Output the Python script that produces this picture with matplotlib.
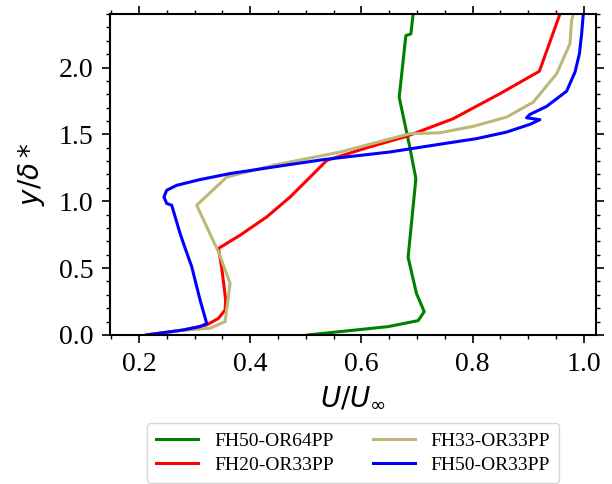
import matplotlib
matplotlib.use("Agg")
import matplotlib.pyplot as plt

# ============================================================================
# Perfiles de velocidad
# ============================================================================

# FH50-OR64PP
u_fh50_or64 = [0.504, 0.648, 0.702, 0.713, 0.699, 0.684, 0.698, 0.687, 0.668, 0.680, 0.689, 0.693]
y_fh50_or64 = [0.0, 0.062, 0.107, 0.174, 0.311, 0.580, 1.169, 1.405, 1.778, 2.239, 2.251, 2.40]

# FH20-OR33PP
u_fh20_or33 = [0.214, 0.280, 0.322, 0.343, 0.355, 0.356, 0.349, 0.343, 0.382, 0.430,
               0.472, 0.508, 0.538, 0.610, 0.681, 0.765, 0.849, 0.920, 0.957]
y_fh20_or33 = [0.0, 0.037, 0.075, 0.124, 0.187, 0.261, 0.500, 0.647, 0.746, 0.883,
               1.032, 1.181, 1.306, 1.400, 1.485, 1.617, 1.804, 1.972, 2.40]

# FH33-OR33PP
u_fh33_or33 = [0.214, 0.280, 0.328, 0.355, 0.364, 0.343, 0.322, 0.304, 0.358, 0.442,
               0.562, 0.687, 0.741, 0.801, 0.861, 0.909, 0.951, 0.975, 0.978, 0.981]
y_fh33_or33 = [0.0, 0.035, 0.050, 0.100, 0.386, 0.622, 0.808, 0.970, 1.181, 1.269,
               1.368, 1.505, 1.512, 1.560, 1.629, 1.741, 1.953, 2.177, 2.350, 2.40]

# FH50-OR33PP
u_fh50_or33 = [0.214, 0.280, 0.310, 0.322, 0.310, 0.295, 0.283, 0.274, 0.259, 0.250, 0.245,
               0.250, 0.268, 0.310, 0.364, 0.442, 0.531, 0.651, 0.747, 0.807,
               0.861, 0.903, 0.921, 0.897, 0.903, 0.933, 0.969, 0.984, 0.992, 0.996, 0.999]
y_fh50_or33 = [0.0, 0.037, 0.062, 0.085, 0.261, 0.510, 0.650, 0.759, 0.970, 0.983, 1.032,
               1.082, 1.119, 1.162, 1.207, 1.256, 1.311, 1.368, 1.430, 1.468,
               1.517, 1.575, 1.610, 1.624, 1.649, 1.709, 1.823, 1.965, 2.102, 2.251, 2.40]

# ============================================================================
# Grafico
# ============================================================================

plt.rcParams["font.family"] = ["Liberation Serif", "DejaVu Serif"]
plt.rcParams["mathtext.fontset"] = "dejavusans"

fig = plt.figure(figsize=(6.12, 4.84), dpi=100)
ax = fig.add_axes([0.1797, 0.308, 0.7943, 0.663])

ax.plot(u_fh50_or64, y_fh50_or64, color="green", lw=2.2, label="FH50-OR64PP")
ax.plot(u_fh20_or33, y_fh20_or33, color="red", lw=2.2, label="FH20-OR33PP")
ax.plot(u_fh33_or33, y_fh33_or33, color="#BDB878", lw=2.2, label="FH33-OR33PP")
ax.plot(u_fh50_or33, y_fh50_or33, color="blue", lw=2.2, label="FH50-OR33PP")

ax.set_xlim(0.148, 1.022)
ax.set_ylim(0.0, 2.4)
ax.set_xticks([0.2, 0.4, 0.6, 0.8, 1.0])
ax.set_yticks([0.0, 0.5, 1.0, 1.5, 2.0])
ax.set_xticks([0.15 + 0.05 * i for i in range(18)], minor=True)
ax.set_yticks([0.1 * i for i in range(25)], minor=True)
ax.tick_params(which="both", direction="out", top=True, right=True, labelsize=20)
ax.tick_params(which="major", length=6, width=1.2, pad=6)
ax.tick_params(which="minor", length=3, width=1.0)
for s in ax.spines.values():
    s.set_linewidth(1.5)

ax.set_xlabel(r"$U/U_{\infty}$", fontsize=20, labelpad=6)
ax.set_ylabel(r"$y/\delta*$", fontsize=20, labelpad=8)

ax.legend(loc="upper center", bbox_to_anchor=(0.5, -0.245), ncol=2, fontsize=14,
          handlelength=2.2, handletextpad=0.8, columnspacing=2.0,
          labelspacing=0.35, borderpad=0.45)

plt.savefig("out.png", dpi=100)
plt.close()
